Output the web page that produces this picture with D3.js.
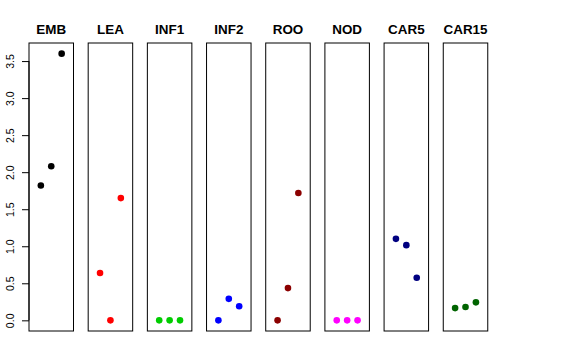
<!DOCTYPE html>
<html><head><meta charset="utf-8">
<script src="https://cdn.jsdelivr.net/npm/d3@7"></script>
<style>body{margin:0;background:#fff}svg{display:block}</style>
</head><body>
<svg id="c" width="576" height="360"></svg>
<script>
const categories = ["EMB","LEA","INF1","INF2","ROO","NOD","CAR5","CAR15"];
const colors = ["#000000","#FF0000","#00CD00","#0000FF","#8B0000","#FF00FF","#000080","#006400"];
const EMB = [1.82, 2.08, 3.60];
const LEA = [0.64, 0.00, 1.65];
const INF1 = [0.00, 0.00, 0.00];
const INF2 = [0.00, 0.29, 0.19];
const ROO = [0.00, 0.435, 1.72];
const NOD = [0.00, 0.00, 0.00];
const CAR5 = [1.10, 1.015, 0.575];
const CAR15 = [0.165, 0.18, 0.243];
const series = [EMB, LEA, INF1, INF2, ROO, NOD, CAR5, CAR15];
const yTicks = [0, 0.5, 1, 1.5, 2, 2.5, 3, 3.5];

const svg = d3.select("#c");
const plotTop = 43, plotBottom = 331;
const panelW = 44.5, stride = 59.18, left0 = 29;
const y = d3.scaleLinear().domain([-0.144, 3.744]).range([plotBottom, plotTop]);

categories.forEach((cat, i) => {
  const x0 = left0 + i * stride;
  const x = d3.scaleLinear().domain([-0.14, 4.14]).range([x0, x0 + panelW]);
  const g = svg.append("g");
  g.append("rect").attr("x", x0).attr("y", plotTop).attr("width", panelW).attr("height", plotBottom - plotTop)
    .attr("fill", "none").attr("stroke", "#000").attr("stroke-width", 1);
  g.append("text")
    .attr("transform", `translate(${x0 + panelW / 2},34) scale(1.12,1)`)
    .attr("text-anchor", "middle")
    .attr("font-family", "Liberation Sans, Arial, sans-serif").attr("font-weight", "bold")
    .attr("font-size", 12).text(cat);
  g.selectAll("circle").data(series[i]).join("circle")
    .attr("cx", (d, j) => x(j + 1)).attr("cy", d => y(d)).attr("r", 3.3)
    .attr("fill", colors[i]);
});

const axis = d3.axisLeft(y).tickValues(yTicks).tickFormat(d3.format(".1f")).tickSize(7);
const ag = svg.append("g").attr("transform", `translate(${left0},0)`).call(axis);
ag.select(".domain").attr("d", `M0,${y(0)}V${y(3.5)}`).attr("stroke", "#000");
ag.selectAll(".tick line").attr("stroke", "#000");
ag.selectAll(".tick text")
  .attr("font-family", "Liberation Sans, Arial, sans-serif").attr("font-size", 10.5).attr("fill", "#000")
  .attr("x", null).attr("dy", null)
  .attr("transform", "translate(-18.5,0) rotate(-90)").attr("dy", "0.35em").attr("text-anchor", "middle");
</script>
</body></html>
